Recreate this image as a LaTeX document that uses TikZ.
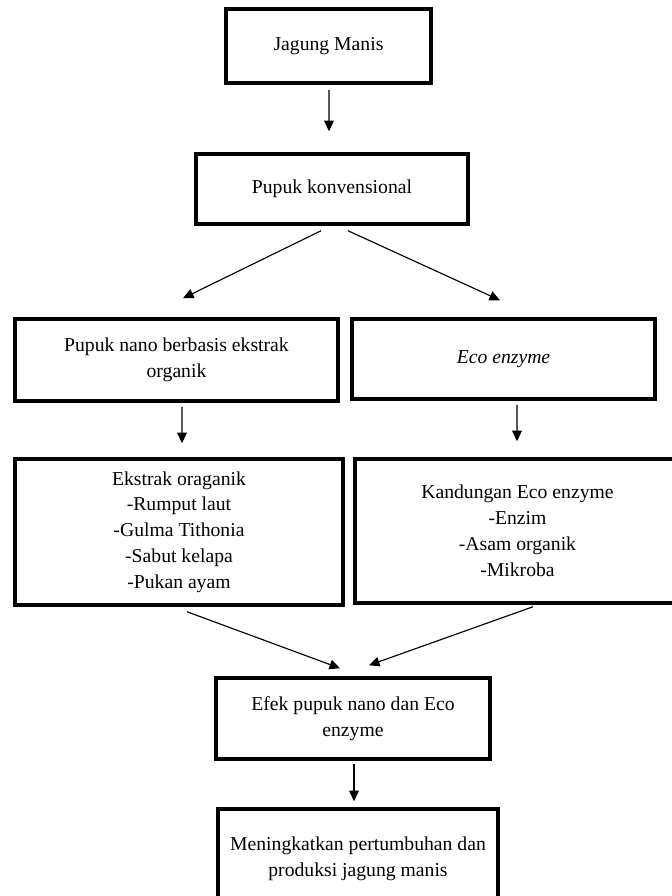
\documentclass[tikz,border=0pt]{standalone}
\usepackage{fontspec}
\setmainfont{Liberation Serif}
\usetikzlibrary{calc}
\usetikzlibrary{arrows.meta}
\tikzset{
    flow-box/.style={draw=black, line width=2pt, align=center, inner sep=0pt,
        font=\fontsize{11.2}{14.7}\selectfont},
    flow-arrow/.style={draw=black, line width=0.65pt, -{Triangle[length=6pt, width=5.5pt]}}
}

\begin{document}
\begin{tikzpicture}[x=0.02cm, y=-0.02cm]
            \clip (0, 0) rectangle (672, 896);
            \node[flow-box, minimum width=4.1cm, minimum height=1.48cm] (jagung) at (328.5, 46) {Jagung Manis};
            \node[flow-box, minimum width=5.44cm, minimum height=1.4cm] (konvensional) at (332, 189) {Pupuk konvensional};
            \node[flow-box, minimum width=6.46cm, minimum height=1.64cm] (nano) at (176.5, 360) {Pupuk nano berbasis ekstrak\\organik};
            \node[flow-box, minimum width=6.06cm, minimum height=1.6cm] (eco) at (503.5, 359) {\textit{Eco enzyme}};
            \node[flow-box, minimum width=6.56cm, minimum height=2.92cm] (ekstrak) at (179, 532) {Ekstrak oraganik\\-Rumput laut\\-Gulma Tithonia\\-Sabut kelapa\\-Pukan ayam};
            \node[flow-box, minimum width=6.5cm, minimum height=2.88cm] (kandungan) at (517.5, 531) {Kandungan Eco enzyme\\-Enzim\\-Asam organik\\-Mikroba};
            \node[flow-box, minimum width=5.48cm, minimum height=1.62cm] (efek) at (353, 718.5) {Efek pupuk nano dan Eco\\enzyme};
            \node[flow-box, minimum width=5.6cm, minimum height=1.98cm] (hasil) at (358, 858.5) {Meningkatkan pertumbuhan dan\\produksi jagung manis};
            % arrows
            \draw[flow-arrow] ($(jagung.south)+(0.5, 5)$) -- ($(konvensional.north)+(-3, -21)$);
            \draw[flow-arrow] ($(konvensional.south)+(-11, 5)$) -- ($(nano.north)+(6.5, -19)$);
            \draw[flow-arrow] ($(konvensional.south)+(16, 5)$) -- ($(eco.north)+(-3.5, -17)$);
            \draw[flow-arrow] ($(nano.south)+(5.5, 4)$) -- ($(ekstrak.north)+(3, -14)$);
            \draw[flow-arrow] ($(eco.south)+(13.5, 4)$) -- ($(kandungan.north)+(-0.5, -16)$);
            \draw[flow-arrow] ($(ekstrak.south)+(8, 5)$) -- ($(efek.north)+(-13, -8)$);
            \draw[flow-arrow] ($(kandungan.south)+(15.5, 2)$) -- ($(efek.north)+(16, -11)$);
            \draw[flow-arrow] ($(efek.south)+(1, 3)$) -- ($(hasil.north)+(-4, -6)$);
        \end{tikzpicture}
\end{document}
